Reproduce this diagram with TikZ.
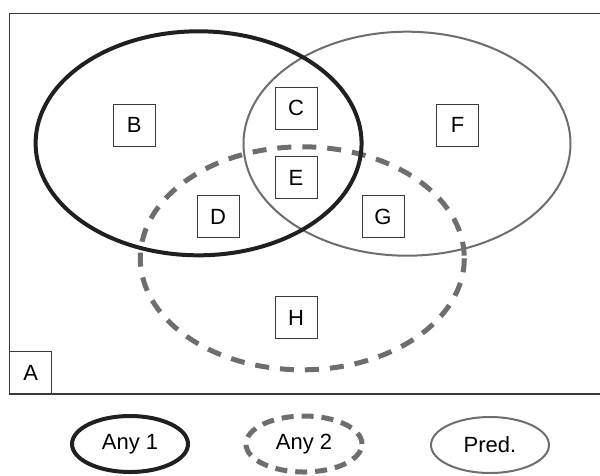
\documentclass[tikz,border=0pt]{standalone}
\usepackage{fontspec}
\setmainfont{Liberation Sans}
\usetikzlibrary{shapes.geometric}
\definecolor{inkdark}{HTML}{231F20}
\definecolor{inkgray}{HTML}{6E6E6E}
\definecolor{boxline}{HTML}{3A3A3A}
\tikzset{
  lbl/.style={draw=boxline, line width=0.9pt, fill=white, minimum width=42pt, minimum height=42pt, inner sep=0pt, font=\fontsize{22}{24}\selectfont},
  anyone/.style={draw=inkdark, line width=4pt},
  anytwo/.style={draw=inkgray, line width=5pt, dash pattern=on 14pt off 11pt},
  predline/.style={draw=inkgray, line width=2pt},
  legend/.style={ellipse, minimum width=116pt, minimum height=56pt, inner sep=0pt, font=\fontsize{22}{24}\selectfont},
}
\begin{document}
\begin{tikzpicture}[x=1pt,y=-1pt]
\useasboundingbox (0,0) rectangle (600,475);
\fill[white] (0,0) rectangle (600,475);
% frame
\draw[boxline, line width=1.2pt] (600,13.5) -- (9.3,13.5) -- (9.3,394) -- (600,394);
% ellipses
\draw[predline] (407,143.7) ellipse [x radius=163.5, y radius=112];
\draw[anytwo] (302.3,258.3) ellipse [x radius=162, y radius=111.5];
\draw[anyone] (198.6,143.3) ellipse [x radius=163, y radius=112];
% region labels
\node[lbl, anchor=south west] (A) at (9.3,394) {A};
\node[lbl] (B) at (134.3,125) {B};
\node[lbl] (C) at (296,108) {C};
\node[lbl] (F) at (457.7,125) {F};
\node[lbl] (E) at (296,177.7) {E};
\node[lbl] (D) at (218,216.8) {D};
\node[lbl] (G) at (383,216.8) {G};
\node[lbl] (H) at (296,317.7) {H};
% legend
\node[legend, anyone] (L1) at (130,444) {Any 1};
\node[legend, anytwo, dash pattern=on 12pt off 8pt] (L2) at (304,444) {Any 2};
\node[legend, predline, minimum width=118pt] (L3) at (490,445) {Pred.};
\end{tikzpicture}
\end{document}
